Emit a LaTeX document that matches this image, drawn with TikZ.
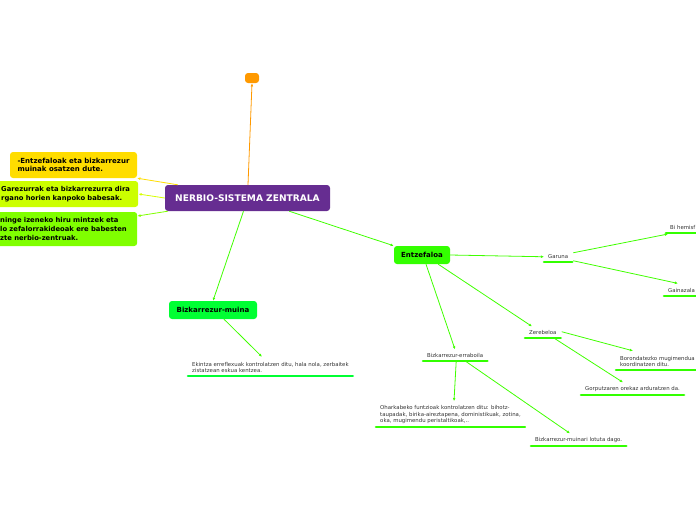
\documentclass[tikz,border=0pt]{standalone}
\usepackage{fontspec}
\setmainfont{DejaVu Sans}
\usetikzlibrary{arrows.meta,calc}
\definecolor{purplemain}{HTML}{662D91}
\definecolor{orangebox}{HTML}{FF9900}
\definecolor{yellowbox}{HTML}{FFDD00}
\definecolor{limebox}{HTML}{CCFF00}
\definecolor{chartbox}{HTML}{80FF00}
\definecolor{greenA}{HTML}{00FF33}
\definecolor{greenB}{HTML}{33FF00}
\definecolor{greenline}{HTML}{40FF00}
\tikzset{
  topic/.style={rounded corners=3pt, inner sep=0pt, font=\bfseries\fontsize{7}{8.6}\selectfont},
  edgenote/.style={topic, anchor=west, inner xsep=8pt, align=left, text width=129pt,
    font=\bfseries\fontsize{6.8}{8.6}\selectfont},
  leaf/.style={anchor=south west, inner xsep=4pt, inner ysep=3pt, align=left,
    text=black!80, font=\fontsize{5.4}{6.6}\selectfont},
  under/.style={line width=2.6pt, line cap=round},
  link/.style={greenline, line width=0.8pt, -{Latex[length=3.2pt,width=2.8pt]}},
}
\begin{document}
\begin{tikzpicture}[x=1pt,y=-1pt]
  \useasboundingbox (0,0) rectangle (696,520);
  \clip (0,0) rectangle (696,520);
  % main topic
  \node[topic, fill=purplemain, text=white, minimum width=165pt, minimum height=26pt,
    font=\bfseries\fontsize{9.1}{10}\selectfont] (main) at (247.5,198) {NERBIO-SISTEMA ZENTRALA};
  \node[topic, fill=orangebox, minimum width=14pt, minimum height=10pt] (empty) at (252,78) {};
  % left notes
  \node[topic, fill=yellowbox, minimum width=127pt, minimum height=26pt, align=left] (osatu) at (73.5,165)
    {-Entzefaloak eta bizkarrezur\\muinak osatzen dute.};
  \node[edgenote, fill=limebox, minimum height=26pt] (babes) at (-7,194)
    {Garezurrak eta bizkarrezurra dira\\rgano horien kanpoko babesak.};
  \node[edgenote, fill=chartbox, minimum height=34pt] (meninge) at (-8,229)
    {ninge izeneko hiru mintzek eta\\lo zefalorrakideoak ere babesten\\zte nerbio-zentruak.};
  % main branches
  \node[topic, fill=greenA, minimum width=88pt, minimum height=18pt] (muina) at (213,310) {Bizkarrezur-muina};
  \node[topic, fill=greenB, minimum width=56pt, minimum height=18pt] (entz) at (422,255) {Entzefaloa};
  % leaves
  \node[leaf] (ekintza) at (188,376) {Ekintza erreflexuak kontrolatzen ditu, hala nola, zerbaitek\\zistatzean eskua kentzea.};
  \node[leaf] (garuna) at (544,262) {Garuna};
  \node[leaf] (zerebeloa) at (525,338) {Zerebeloa};
  \node[leaf] (erraboila) at (423,361) {Bizkarrezur-erraboila};
  \node[leaf] (hemisf) at (666,233) {Bi hemisf};
  \node[leaf] (gainazala) at (664,296) {Gainazala};
  \node[leaf] (borondate) at (616,370) {Borondatezko mugimendua\\koordinatzen ditu.};
  \node[leaf] (oreka) at (581,395) {Gorputzaren orekaz arduratzen da.};
  \node[leaf] (oharkabe) at (376,427) {Oharkabeko funtzioak kontrolatzen ditu: bihotz-\\taupadak, birika-aireztapena, doministikuak, zotina,\\oka, mugimendu peristaltikoak,..};
  \node[leaf] (lotuta) at (531,446) {Bizkarrezur-muinari lotuta dago.};
  \foreach \n/\c in {ekintza/greenA, garuna/greenB, zerebeloa/greenB, erraboila/greenB,
    hemisf/greenB, gainazala/greenB, borondate/greenB, oreka/greenB, oharkabe/greenB, lotuta/greenB}
    \draw[under, \c] (\n.south west) -- (\n.south east);
  % connectors
  \draw[orangebox, line width=0.8pt, -{Latex[length=3.2pt,width=2.8pt]}] ($(main.north)+(0.5,0)$) -- (empty.south);
  \draw[yellowbox, line width=0.8pt, -{Latex[length=3.2pt,width=2.8pt]}] ($(main.north west)+(13,0)$) -- (osatu.south east);
  \draw[limebox!80!yellow, line width=0.8pt, -{Latex[length=3.2pt,width=2.8pt]}] (main.west) -- (babes.east);
  \draw[chartbox, line width=0.8pt, -{Latex[length=3.2pt,width=2.8pt]}] ($(main.south west)+(3,0)$) -- (meninge.north east |- 0,216);
  \draw[link] ($(main.south)+(-4,0)$) -- (muina.north);
  \draw[link] ($(main.south east)+(-41,0)$) -- (entz.north west);
  \draw[link] ($(muina.south)+(11,0)$) -- ($(ekintza.north west)+(74,-2)$);
  \draw[link] (entz.east) -- (garuna.west);
  \draw[link] ($(entz.south east)+(-12,0)$) -- ($(zerebeloa.north west)+(7,-1)$);
  \draw[link] ($(entz.south)+(4,0)$) -- ($(erraboila.north west)+(32,-1)$);
  \draw[link] ($(garuna.east)+(1,-4)$) -- ($(hemisf.south west)+(2,1)$);
  \draw[link] ($(garuna.east)+(1,4)$) -- ($(gainazala.north west)+(14,-2)$);
  \draw[link] ($(zerebeloa.east)+(1,-1)$) -- ($(borondate.north west)+(17,-2)$);
  \draw[link] ($(zerebeloa.south)+(11,0)$) -- ($(oreka.north west)+(42,-1)$);
  \draw[link] ($(erraboila.south)+(1,0)$) -- ($(oharkabe.north west)+(78,-1)$);
  \draw[link] ($(erraboila.south)+(10,0)$) -- ($(lotuta.north west)+(39,-1)$);
\end{tikzpicture}
\end{document}
